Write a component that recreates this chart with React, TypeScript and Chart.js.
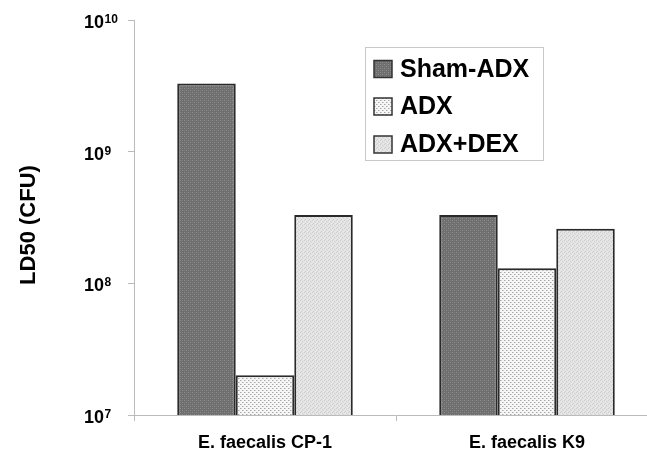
import React, { useEffect, useRef } from "react";
import { Chart, registerables } from "chart.js";

Chart.register(...registerables);

const categories = ["E. faecalis CP-1", "E. faecalis K9"];
const seriesNames = ["Sham-ADX", "ADX", "ADX+DEX"];
const shamAdx = [3.3e9, 3.3e8];
const adx = [2.0e7, 1.3e8];
const adxDex = [3.3e8, 2.6e8];
const yTickValues = [1e7, 1e8, 1e9, 1e10];
const yTickExponents = ["7", "8", "9", "10"];
const yTitle = "LD50 (CFU)";

const FONT = '"Liberation Sans", Arial, Helvetica, sans-serif';

function makePattern(kind: string): CanvasPattern | string {
  const c = document.createElement("canvas");
  c.width = 4;
  c.height = 4;
  const g = c.getContext("2d");
  if (!g) return "#888";
  const px = (x: number, y: number, col: string) => {
    g.fillStyle = col;
    g.fillRect(x, y, 1, 1);
  };
  if (kind === "sham") {
    g.fillStyle = "#6e6e6e";
    g.fillRect(0, 0, 4, 4);
    px(0, 0, "#909090");
    px(2, 2, "#909090");
    px(2, 0, "#7d7d7d");
    px(0, 2, "#7d7d7d");
  } else if (kind === "adx") {
    g.fillStyle = "#f6f6f6";
    g.fillRect(0, 0, 4, 4);
    px(0, 0, "#a8a8a8");
    px(2, 2, "#a8a8a8");
    px(1, 0, "#d0d0d0");
    px(3, 2, "#d0d0d0");
  } else {
    g.fillStyle = "#e3e3e3";
    g.fillRect(0, 0, 4, 4);
    px(0, 0, "#cdcdcd");
    px(2, 1, "#cdcdcd");
    px(1, 3, "#cdcdcd");
    px(3, 2, "#d6d6d6");
    px(1, 1, "#eeeeee");
    px(3, 3, "#eeeeee");
  }
  const p = g.createPattern(c, "repeat");
  return p || "#888";
}

const customDraw = {
  id: "customDraw",
  afterDraw(chart: any) {
    const ctx = chart.ctx as CanvasRenderingContext2D;
    const y = chart.scales.y;
    ctx.save();
    ctx.fillStyle = "#000";
    ctx.textAlign = "left";
    ctx.textBaseline = "alphabetic";
    yTickValues.forEach((v, i) => {
      const py = y.getPixelForValue(v);
      ctx.font = `bold 18px ${FONT}`;
      ctx.fillText("10", 84, py + 8);
      const w = ctx.measureText("10").width;
      ctx.font = `bold 12px ${FONT}`;
      ctx.fillText(yTickExponents[i], 84 + w + 0.5, py + 3);
    });
    // y title
    ctx.save();
    ctx.translate(35, 225);
    ctx.rotate(-Math.PI / 2);
    ctx.font = `bold 22px ${FONT}`;
    ctx.textAlign = "center";
    ctx.textBaseline = "alphabetic";
    ctx.fillText(yTitle, 0, 0);
    ctx.restore();

    // legend
    const bx = 365, by = 47, bw = 178, bh = 113;
    ctx.fillStyle = "#fff";
    ctx.fillRect(bx, by, bw, bh);
    ctx.strokeStyle = "#c8c8c8";
    ctx.lineWidth = 1;
    ctx.strokeRect(bx + 0.5, by + 0.5, bw, bh);
    const rows = [69, 106.5, 144.5];
    chart.data.datasets.forEach((ds: any, i: number) => {
      const cy = rows[i];
      ctx.fillStyle = ds.backgroundColor;
      ctx.fillRect(374, cy - 8.5, 18, 17);
      ctx.strokeStyle = "#333";
      ctx.lineWidth = 1.5;
      ctx.strokeRect(374, cy - 8.5, 18, 17);
      ctx.fillStyle = "#000";
      ctx.font = `bold 25px ${FONT}`;
      ctx.textAlign = "left";
      ctx.textBaseline = "middle";
      ctx.fillText(ds.label, 400, cy + 1);
    });
    ctx.restore();
  },
};

export default function App() {
  const ref = useRef<HTMLCanvasElement | null>(null);
  useEffect(() => {
    if (!ref.current) return;
    const fills = [makePattern("sham"), makePattern("adx"), makePattern("dex")];
    const values = [shamAdx, adx, adxDex];
    const chart = new Chart(ref.current, {
      type: "bar",
      data: {
        labels: categories,
        datasets: seriesNames.map((name, i) => ({
          label: name,
          data: values[i],
          backgroundColor: fills[i] as any,
          borderColor: "#2a2a2a",
          borderWidth: 2,
          categoryPercentage: 0.67,
          barPercentage: 1,
        })),
      },
      options: {
        responsive: false,
        animation: false,
        layout: { padding: { top: 20, right: 2, left: 0, bottom: 0 } },
        plugins: {
          legend: { display: false },
          tooltip: { enabled: false },
        },
        scales: {
          x: {
            offset: true,
            grid: {
              offset: true,
              drawOnChartArea: false,
              drawTicks: true,
              tickLength: 6,
              color: "#bbb",
            },
            border: { display: true, color: "#bbb", width: 1 },
            ticks: {
              color: "#000",
              font: { family: FONT, size: 18, weight: "bold" },
              padding: 11,
              maxRotation: 0,
            },
            afterFit: (s: any) => {
              s.height = 36;
            },
          },
          y: {
            type: "logarithmic",
            min: 1e7,
            max: 1e10,
            grid: {
              drawOnChartArea: false,
              drawTicks: true,
              tickLength: 6,
              color: "#bbb",
            },
            border: { display: true, color: "#bbb", width: 1 },
            ticks: { display: false },
            afterBuildTicks: (s: any) => {
              s.ticks = yTickValues.map((v) => ({ value: v }));
            },
            afterFit: (s: any) => {
              s.width = 134;
            },
          },
        },
      },
      plugins: [customDraw],
    });
    return () => chart.destroy();
  }, []);
  return (
    <div
      style={{
        position: "fixed",
        left: 0,
        top: 0,
        width: 647,
        height: 451,
        overflow: "hidden",
        background: "#fff",
      }}
    >
      <canvas ref={ref} width={660} height={451} style={{ display: "block" }} />
    </div>
  );
}
